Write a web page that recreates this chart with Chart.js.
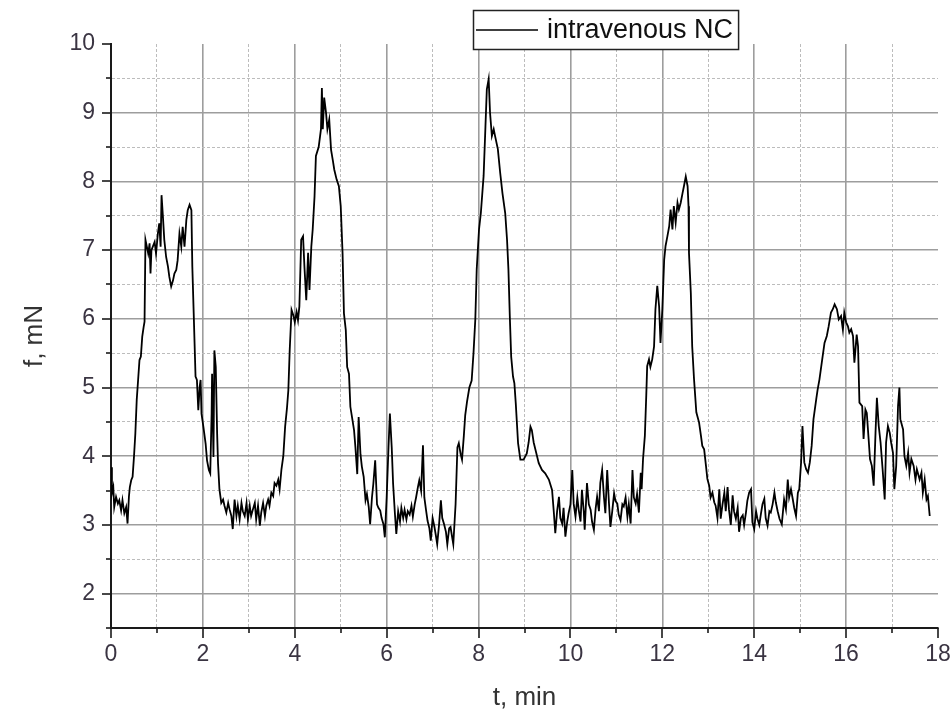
<!DOCTYPE html>
<html>
<head>
<meta charset="utf-8">
<script src="https://cdn.jsdelivr.net/npm/chart.js@4/dist/chart.umd.min.js"></script>
<style>
  html, body { margin: 0; padding: 0; background: #ffffff; }
  #wrap { width: 952px; height: 711px; }
</style>
</head>
<body>
<div id="wrap"><canvas id="c" width="952" height="711"></canvas></div>
<script>
// ---------------- DATA ----------------
const seriesLabel = 'intravenous NC';
const xAxisTitle = 't, min';
const yAxisTitle = 'f, mN';
const xTickLabels = ['0', '2', '4', '6', '8', '10', '12', '14', '16', '18'];
const yTickLabels = ['2', '3', '4', '5', '6', '7', '8', '9', '10'];

// cycle 1 (0 - 2.35 min)
const timeA = [0, 0.02, 0.05, 0.07, 0.11, 0.15, 0.18, 0.22, 0.25, 0.29,
  0.33, 0.36, 0.39, 0.41, 0.44, 0.47, 0.5, 0.53, 0.56, 0.59,
  0.62, 0.65, 0.68, 0.71, 0.73, 0.75, 0.78, 0.81, 0.84, 0.86,
  0.88, 0.91, 0.95, 0.98, 1.02, 1.05, 1.08, 1.1, 1.13, 1.16,
  1.2, 1.24, 1.27, 1.31, 1.35, 1.38, 1.42, 1.45, 1.49, 1.53,
  1.56, 1.6, 1.64, 1.67, 1.71, 1.75, 1.77, 1.8, 1.84, 1.87,
  1.9, 1.93, 1.95, 1.97, 2.01, 2.06, 2.09, 2.13, 2.16, 2.19,
  2.2, 2.23, 2.25, 2.28, 2.31, 2.33];
const forceA = [3.84, 3.46, 3.55, 3.26, 3.41, 3.31, 3.36, 3.21, 3.36, 3.17,
  3.26, 3.02, 3.41, 3.55, 3.65, 3.70, 3.99, 4.33, 4.82, 5.11,
  5.4, 5.45, 5.74, 5.88, 5.96, 7.15, 7.05, 6.95, 7.1, 6.66,
  7.0, 7.05, 7.12, 6.95, 7.24, 7.39, 7.05, 7.8, 7.49, 7.15,
  6.9, 6.76, 6.61, 6.47, 6.56, 6.66, 6.71, 6.85, 7.24, 7.05,
  7.34, 7.05, 7.44, 7.58, 7.66, 7.58, 6.76, 6.08, 5.16, 5.11,
  4.67, 5.01, 5.11, 4.62, 4.43, 4.18, 3.94, 3.8, 3.75, 4.62,
  5.2, 3.99, 5.54, 5.3, 4.33, 3.89];

// baseline 1 (2.36 - 3.75 min)
const timeB = [2.36, 2.4, 2.44, 2.47, 2.51, 2.55, 2.58, 2.62, 2.65, 2.69,
  2.73, 2.76, 2.8, 2.84, 2.87, 2.91, 2.95, 2.98, 3.02, 3.05,
  3.09, 3.13, 3.16, 3.2, 3.24, 3.27, 3.31, 3.35, 3.38, 3.42,
  3.45, 3.49, 3.53, 3.56, 3.6, 3.64, 3.67, 3.71, 3.75];
const forceB = [3.52, 3.32, 3.37, 3.28, 3.18, 3.32, 3.23, 3.13, 2.94, 3.37,
  3.13, 3.28, 3.08, 3.32, 3.2, 3.13, 3.32, 3.08, 3.28, 3.13,
  3.23, 3.32, 3.08, 3.28, 2.99, 3.18, 3.32, 3.13, 3.28, 3.37,
  3.28, 3.47, 3.42, 3.61, 3.57, 3.66, 3.52, 3.81, 4.0];

// cycle 2 (3.79 - 6.21 min)
const timeC = [3.79, 3.83, 3.86, 3.89, 3.93, 3.97, 4.0, 4.04, 4.07, 4.1,
  4.14, 4.18, 4.21, 4.25, 4.29, 4.32, 4.36, 4.39, 4.43, 4.46,
  4.52, 4.57, 4.59, 4.61, 4.64, 4.68, 4.71, 4.75, 4.79, 4.83,
  4.86, 4.91, 4.96, 5.0, 5.04, 5.07, 5.11, 5.14, 5.18, 5.21,
  5.25, 5.29, 5.32, 5.36, 5.39, 5.43, 5.46, 5.5, 5.54, 5.57,
  5.61, 5.64, 5.68, 5.71, 5.75, 5.79, 5.82, 5.86, 5.89, 5.93,
  5.96, 6.0, 6.04, 6.07, 6.11, 6.14, 6.18, 6.21];
const forceC = [4.43, 4.7, 4.96, 5.55, 6.13, 6.05, 5.95, 6.1, 5.98, 6.18,
  7.15, 7.2, 6.76, 6.27, 6.96, 6.42, 7.05, 7.3, 7.78, 8.37,
  8.5, 8.76, 9.36, 8.76, 9.22, 9.0, 8.76, 8.9, 8.46, 8.3,
  8.17, 8.03, 7.93, 7.64, 6.96, 6.08, 5.84, 5.3, 5.2, 4.72,
  4.55, 4.38, 4.13, 3.74, 4.57, 4.03, 3.85, 3.7, 3.36, 3.45,
  3.26, 3.01, 3.4, 3.6, 3.94, 3.3, 3.25, 3.21, 3.1, 3.01,
  2.82, 3.4, 4.13, 4.62, 4.13, 3.6, 3.16, 2.87];

// baseline 2 (6.25 - 7.5 min)
const timeD = [6.25, 6.29, 6.32, 6.36, 6.39, 6.43, 6.46, 6.5, 6.54, 6.57,
  6.61, 6.64, 6.68, 6.71, 6.75, 6.79, 6.82, 6.86, 6.89, 6.93,
  6.96, 7.0, 7.04, 7.07, 7.1, 7.14, 7.18, 7.21, 7.25, 7.29,
  7.32, 7.36, 7.39, 7.43, 7.45, 7.5];
const forceD = [3.2, 3.05, 3.25, 3.1, 3.22, 3.08, 3.2, 3.15, 3.28, 3.12,
  3.3, 3.4, 3.55, 3.65, 3.5, 4.16, 3.4, 3.2, 3.06, 2.95,
  2.77, 3.1, 2.97, 2.85, 2.72, 3.0, 3.36, 3.1, 3.01, 2.9,
  2.72, 2.95, 2.97, 2.8, 2.72, 3.3];

// cycle 3 (7.54 - 9.6 min)
const timeE = [7.54, 7.57, 7.61, 7.64, 7.68, 7.71, 7.75, 7.8, 7.85, 7.89,
  7.93, 7.96, 8.01, 8.05, 8.11, 8.15, 8.18, 8.22, 8.25, 8.29,
  8.33, 8.36, 8.42, 8.47, 8.52, 8.58, 8.62, 8.65, 8.68, 8.71,
  8.75, 8.78, 8.81, 8.86, 8.91, 8.98, 9.05, 9.09, 9.13, 9.16,
  9.2, 9.24, 9.31, 9.38, 9.45, 9.53, 9.6];
const forceE = [4.13, 4.19, 4.03, 3.95, 4.3, 4.6, 4.8, 5.0, 5.1, 5.5,
  6.0, 6.72, 7.3, 7.54, 8.08, 8.8, 9.34, 9.49, 9.0, 8.66,
  8.76, 8.66, 8.47, 8.13, 7.83, 7.54, 7.15, 6.72, 6.04, 5.45,
  5.16, 5.06, 4.77, 4.19, 3.95, 3.95, 4.04, 4.2, 4.43, 4.38,
  4.2, 4.09, 3.9, 3.8, 3.75, 3.66, 3.51];

// baseline 3 (9.64 - 11.49 min)
const timeF = [9.64, 9.67, 9.71, 9.75, 9.78, 9.82, 9.85, 9.89, 9.93, 9.96,
  10.0, 10.04, 10.07, 10.11, 10.15, 10.18, 10.22, 10.25, 10.29, 10.31,
  10.36, 10.4, 10.44, 10.47, 10.51, 10.55, 10.58, 10.62, 10.65, 10.69,
  10.73, 10.76, 10.8, 10.84, 10.87, 10.91, 10.95, 10.98, 11.02, 11.05,
  11.09, 11.13, 11.16, 11.2, 11.24, 11.27, 11.31, 11.35, 11.38, 11.42,
  11.45, 11.49];
const forceF = [3.17, 2.88, 3.2, 3.41, 3.1, 3.02, 3.25, 2.83, 3.05, 3.17,
  3.3, 3.8, 3.31, 3.12, 3.4, 3.22, 3.05, 3.51, 3.2, 2.93,
  3.61, 3.3, 3.22, 3.05, 2.93, 3.25, 3.41, 3.2, 3.61, 3.8,
  3.4, 3.17, 3.8, 3.3, 2.97, 3.2, 3.46, 3.35, 3.31, 3.15,
  3.07, 3.3, 3.27, 3.4, 3.12, 3.3, 3.02, 3.8, 3.4, 3.31,
  3.45, 3.18];

// cycle 4 (11.53 - 12.98 min)
const timeG = [11.53, 11.55, 11.58, 11.62, 11.65, 11.67, 11.71, 11.74, 11.78, 11.82,
  11.85, 11.89, 11.93, 11.96, 12.0, 12.04, 12.07, 12.11, 12.15, 12.18,
  12.22, 12.25, 12.29, 12.33, 12.36, 12.4, 12.44, 12.47, 12.51, 12.55,
  12.57, 12.58, 12.62, 12.65, 12.69, 12.74, 12.8, 12.84, 12.87, 12.91,
  12.95, 12.98];
const forceG = [3.76, 3.52, 3.96, 4.3, 4.88, 5.31, 5.41, 5.3, 5.41, 5.6,
  6.14, 6.48, 6.18, 5.65, 6.14, 6.86, 7.06, 7.2, 7.35, 7.59,
  7.3, 7.64, 7.4, 7.69, 7.59, 7.69, 7.83, 7.93, 8.07, 7.93,
  7.64, 6.96, 6.38, 5.6, 5.12, 4.64, 4.49, 4.3, 4.15, 4.1,
  3.86, 3.67];

// baseline 4 (13.02 - 14.98 min)
const timeH = [13.02, 13.05, 13.09, 13.13, 13.16, 13.2, 13.24, 13.27, 13.31, 13.35,
  13.38, 13.42, 13.45, 13.49, 13.53, 13.56, 13.6, 13.64, 13.67, 13.71,
  13.75, 13.78, 13.82, 13.85, 13.89, 13.93, 13.96, 14.0, 14.04, 14.07,
  14.11, 14.15, 14.18, 14.22, 14.25, 14.29, 14.33, 14.36, 14.4, 14.44,
  14.47, 14.51, 14.55, 14.6, 14.65, 14.69, 14.73, 14.76, 14.8, 14.84,
  14.87, 14.91, 14.95, 14.98];
const forceH = [3.57, 3.4, 3.47, 3.33, 3.28, 3.1, 3.52, 3.09, 3.3, 3.47,
  3.2, 3.55, 3.23, 3.0, 3.43, 3.2, 3.09, 3.25, 2.9, 3.1,
  3.14, 3.0, 3.18, 3.35, 3.47, 3.52, 3.04, 2.94, 3.2, 3.09,
  3.0, 3.18, 3.3, 3.38, 3.1, 2.99, 3.2, 3.18, 3.3, 3.47,
  3.33, 3.2, 3.09, 3.01, 3.37, 3.23, 3.66, 3.4, 3.52, 3.37,
  3.25, 3.13, 3.47, 3.52];

// cycle 5 (15.02 - 17.82 min)
const timeI = [15.02, 15.05, 15.09, 15.13, 15.17, 15.21, 15.25, 15.29, 15.35, 15.38,
  15.42, 15.48, 15.53, 15.58, 15.62, 15.67, 15.71, 15.75, 15.8, 15.84,
  15.89, 15.93, 15.96, 16.0, 16.04, 16.07, 16.11, 16.15, 16.18, 16.23,
  16.26, 16.29, 16.35, 16.38, 16.42, 16.45, 16.49, 16.52, 16.56, 16.6,
  16.64, 16.67, 16.71, 16.75, 16.8, 16.84, 16.87, 16.91, 16.95, 16.98,
  17.02, 17.05, 17.09, 17.13, 17.16, 17.18, 17.24, 17.27, 17.31, 17.35,
  17.38, 17.42, 17.47, 17.51, 17.54, 17.6, 17.64, 17.67, 17.71, 17.75,
  17.78, 17.82];
const forceI = [3.91, 4.44, 3.91, 3.81, 3.76, 3.91, 4.15, 4.54, 4.83, 4.97,
  5.12, 5.41, 5.65, 5.75, 5.89, 6.09, 6.14, 6.21, 6.14, 5.99,
  6.04, 5.84, 6.09, 5.95, 5.89, 5.8, 5.85, 5.75, 5.36, 5.77,
  5.6, 4.78, 4.73, 4.25, 4.68, 4.63, 4.25, 3.96, 3.86, 3.57,
  4.34, 4.85, 4.44, 4.2, 3.76, 3.37, 4.2, 4.44, 4.34, 4.2,
  4.05, 3.52, 3.86, 4.73, 5.0, 4.54, 4.39, 4.0, 3.86, 4.05,
  3.76, 3.96, 3.86, 3.66, 3.81, 3.66, 3.76, 3.47, 3.66, 3.37,
  3.42, 3.13];

// ---------------- BUILD ----------------
const timeParts = [timeA, timeB, timeC, timeD, timeE, timeF, timeG, timeH, timeI];
const forceParts = [forceA, forceB, forceC, forceD, forceE, forceF, forceG, forceH, forceI];
const points = [];
timeParts.forEach((tp, k) => {
  const fp = forceParts[k];
  const n = Math.min(tp.length, fp.length);
  for (let i = 0; i < n; i++) points.push({ x: tp[i], y: fp[i] });
});

const FONT = '"Liberation Sans", Arial, Helvetica, sans-serif';
const TICK_COLOR = '#3a3442';
const MAJOR_GRID = '#9d9d9d';
const MINOR_GRID = '#bcbcbc';
const isInt = v => Math.abs(v - Math.round(v)) < 1e-9;

const tickMarks = {
  id: 'tickMarks',
  afterDraw(chart) {
    const { ctx, chartArea: a } = chart;
    const xs = chart.scales.x, ys = chart.scales.y;
    ctx.save();
    ctx.strokeStyle = '#1a1a1a';
    ctx.lineWidth = 1.6;
    xs.ticks.forEach(t => {
      const px = Math.round(xs.getPixelForValue(t.value));
      const len = (Math.round(t.value) % 2 === 0) ? 10 : 5;
      ctx.beginPath();
      ctx.moveTo(px, a.bottom);
      ctx.lineTo(px, a.bottom + len);
      ctx.stroke();
    });
    ys.ticks.forEach(t => {
      const py = Math.round(ys.getPixelForValue(t.value));
      const len = isInt(t.value) ? 9 : 5;
      ctx.beginPath();
      ctx.moveTo(a.left, py);
      ctx.lineTo(a.left - len, py);
      ctx.stroke();
    });
    ctx.restore();
  }
};

const boxLegend = {
  id: 'boxLegend',
  afterDraw(chart) {
    const { ctx } = chart;
    const ds = chart.data.datasets[0];
    ctx.save();
    ctx.font = '27px ' + FONT;
    const tw = ctx.measureText(ds.label).width;
    const x0 = 473, y0 = 10, sample = 62, gap = 9, padR = 5;
    const w = 3 + sample + gap + tw + padR, h = 39;
    ctx.fillStyle = '#ffffff';
    ctx.fillRect(x0, y0, w, h);
    ctx.strokeStyle = '#222';
    ctx.lineWidth = 1.5;
    ctx.strokeRect(x0 + 0.5, y0 + 0.5, w, h);
    ctx.strokeStyle = ds.borderColor;
    ctx.lineWidth = 1.6;
    ctx.beginPath();
    ctx.moveTo(x0 + 3, y0 + 20);
    ctx.lineTo(x0 + 3 + sample, y0 + 20);
    ctx.stroke();
    ctx.fillStyle = '#111';
    ctx.textBaseline = 'middle';
    ctx.textAlign = 'left';
    ctx.fillText(ds.label, x0 + 3 + sample + gap, y0 + 21);
    ctx.restore();
  }
};

new Chart(document.getElementById('c'), {
  type: 'line',
  data: {
    datasets: [{
      label: seriesLabel,
      data: points,
      borderColor: '#000000',
      borderWidth: 1.8,
      pointRadius: 0,
      tension: 0,
      fill: false
    }]
  },
  options: {
    responsive: false,
    animation: false,
    events: [],
    layout: { padding: { top: 44, right: 14, left: 0, bottom: 0 } },
    plugins: {
      legend: { display: false },
      tooltip: { enabled: false },
      title: { display: false }
    },
    scales: {
      x: {
        type: 'linear',
        min: 0,
        max: 18,
        afterFit: s => { s.height = 83; s.paddingRight = 0; s.paddingLeft = 0; },
        ticks: {
          stepSize: 1,
          autoSkip: false,
          maxRotation: 0,
          padding: 13,
          color: TICK_COLOR,
          font: { family: FONT, size: 23 },
          callback: v => {
            const lbl = String(v);
            return xTickLabels.includes(lbl) ? lbl : '';
          }
        },
        grid: {
          drawTicks: false,
          color: c => {
            const v = c.tick ? c.tick.value : null;
            if (v === null || v <= 0 || v >= 18) return 'rgba(0,0,0,0)';
            return isInt(v / 2) ? MAJOR_GRID : MINOR_GRID;
          },
          lineWidth: c => (c.tick && isInt(c.tick.value / 2)) ? 1.6 : 1
        },
        border: {
          display: true,
          color: '#1a1a1a',
          width: 2,
          dash: c => (c.tick && !isInt(c.tick.value / 2)) ? [3, 2] : []
        },
        title: {
          display: true,
          text: xAxisTitle,
          color: '#333',
          font: { family: FONT, size: 26, lineHeight: 1 },
          padding: { top: 0, bottom: 0 }
        }
      },
      y: {
        type: 'linear',
        min: 1.5,
        max: 10,
        afterFit: s => { s.width = 111; s.paddingTop = 0; s.paddingBottom = 0; },
        ticks: {
          stepSize: 0.5,
          autoSkip: false,
          padding: 16,
          color: TICK_COLOR,
          font: { family: FONT, size: 23 },
          callback: v => {
            const lbl = String(v);
            return (isInt(v) && yTickLabels.includes(lbl)) ? lbl : '';
          }
        },
        grid: {
          drawTicks: false,
          color: c => {
            const v = c.tick ? c.tick.value : null;
            if (v === null || v <= 1.5 || v >= 10) return 'rgba(0,0,0,0)';
            return isInt(v) ? MAJOR_GRID : MINOR_GRID;
          },
          lineWidth: c => (c.tick && isInt(c.tick.value)) ? 1.6 : 1
        },
        border: {
          display: true,
          color: '#1a1a1a',
          width: 2,
          dash: c => (c.tick && !isInt(c.tick.value)) ? [3, 2] : []
        },
        title: {
          display: true,
          text: yAxisTitle,
          color: '#333',
          font: { family: FONT, size: 26, lineHeight: 1 },
          padding: { top: 22, bottom: 0 }
        }
      }
    }
  },
  plugins: [tickMarks, boxLegend]
});
</script>
</body>
</html>
